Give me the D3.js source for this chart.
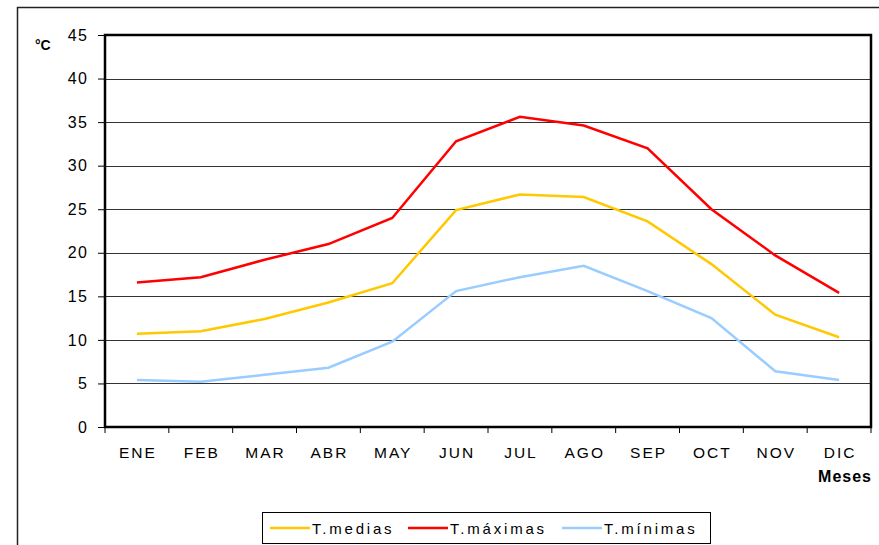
<!DOCTYPE html>
<html>
<head>
<meta charset="utf-8">
<script src="https://cdn.jsdelivr.net/npm/d3@7"></script>
<style>
  body { margin: 0; background: #fff; }
  svg text { font-family: "Liberation Sans", Arial, sans-serif; }
</style>
</head>
<body>
<svg id="chart" width="879" height="545"></svg>
<script>
const months = ["ENE", "FEB", "MAR", "ABR", "MAY", "JUN", "JUL", "AGO", "SEP", "OCT", "NOV", "DIC"];
const tMedias = [10.7, 11.0, 12.4, 14.3, 16.5, 24.9, 26.7, 26.4, 23.6, 18.7, 12.9, 10.3];
const tMaximas = [16.6, 17.2, 19.2, 21.0, 24.0, 32.8, 35.6, 34.6, 32.0, 25.0, 19.7, 15.4];
const tMinimas = [5.4, 5.2, 6.0, 6.8, 9.8, 15.6, 17.2, 18.5, 15.6, 12.5, 6.4, 5.4];
const yTicks = [0, 5, 10, 15, 20, 25, 30, 35, 40, 45];

const series = [
  { name: "T.medias", values: tMedias, color: "#ffc800" },
  { name: "T.máximas", values: tMaximas, color: "#ff0000" },
  { name: "T.mínimas", values: tMinimas, color: "#99ccff" }
];

const svg = d3.select("#chart");
const plot = { left: 105, right: 871, top: 35, bottom: 427 };

// outer chart frame
svg.append("rect")
  .attr("x", 17.5).attr("y", 7.5)
  .attr("width", 900).attr("height", 600)
  .attr("fill", "none").attr("stroke", "#222").attr("stroke-width", 1.5);

const x = d3.scaleBand().domain(months).range([plot.left, plot.right]);
const y = d3.scaleLinear().domain([0, 45]).range([plot.bottom, plot.top]);

// gridlines
svg.append("g")
  .selectAll("line")
  .data(yTicks.filter(d => d > 0 && d < 45))
  .join("line")
  .attr("x1", plot.left).attr("x2", plot.right)
  .attr("y1", d => Math.round(y(d)) + 0.5).attr("y2", d => Math.round(y(d)) + 0.5)
  .attr("stroke", "#333").attr("stroke-width", 1);

// y axis
const yAxis = svg.append("g")
  .attr("transform", `translate(${plot.left},0)`)
  .call(d3.axisLeft(y).tickValues(yTicks).tickSize(7).tickPadding(10));
yAxis.select(".domain").remove();
yAxis.selectAll("text").attr("font-size", 16).attr("letter-spacing", 1.2).attr("fill", "#000");
yAxis.selectAll("line").attr("stroke", "#000");

// x axis
const xTickPos = d3.range(13).map(i => plot.left + i * x.step());
svg.append("g")
  .selectAll("line")
  .data(xTickPos)
  .join("line")
  .attr("x1", d => d).attr("x2", d => d)
  .attr("y1", plot.bottom).attr("y2", plot.bottom + 6)
  .attr("stroke", "#000");
svg.append("g")
  .selectAll("text")
  .data(months)
  .join("text")
  .attr("x", d => x(d) + x.bandwidth() / 2 + 1)
  .attr("y", 458)
  .attr("text-anchor", "middle")
  .attr("font-size", 15.5)
  .attr("letter-spacing", 2)
  .text(d => d);

// plot frame
svg.append("rect")
  .attr("x", plot.left).attr("y", plot.top)
  .attr("width", plot.right - plot.left).attr("height", plot.bottom - plot.top)
  .attr("fill", "none").attr("stroke", "#000").attr("stroke-width", 2.5);

// lines
const line = d3.line()
  .x((d, i) => x(months[i]) + x.bandwidth() / 2)
  .y(d => y(d));
svg.append("g")
  .selectAll("path")
  .data(series)
  .join("path")
  .attr("d", d => line(d.values))
  .attr("fill", "none")
  .attr("stroke", d => d.color)
  .attr("stroke-width", 2.5);

// axis titles
svg.append("text")
  .attr("x", 35).attr("y", 50)
  .attr("font-size", 14).attr("font-weight", "bold")
  .text("°C");
svg.append("text")
  .attr("x", 872).attr("y", 482)
  .attr("text-anchor", "end")
  .attr("font-size", 16).attr("font-weight", "bold")
  .attr("letter-spacing", 1)
  .text("Meses");

// legend
const legend = svg.append("g");
legend.append("rect")
  .attr("x", 262.5).attr("y", 512.5)
  .attr("width", 448).attr("height", 31)
  .attr("fill", "#fff").attr("stroke", "#000").attr("stroke-width", 1);
const legendX = [270, 408, 562];
series.forEach((s, i) => {
  const g = legend.append("g").attr("transform", `translate(${legendX[i]},528)`);
  g.append("line").attr("x1", 0).attr("x2", 40).attr("stroke", s.color).attr("stroke-width", 2.5);
  g.append("text").attr("x", 42).attr("y", 6).attr("font-size", 15)
    .attr("letter-spacing", 2.8).text(s.name);
});
</script>
</body>
</html>
